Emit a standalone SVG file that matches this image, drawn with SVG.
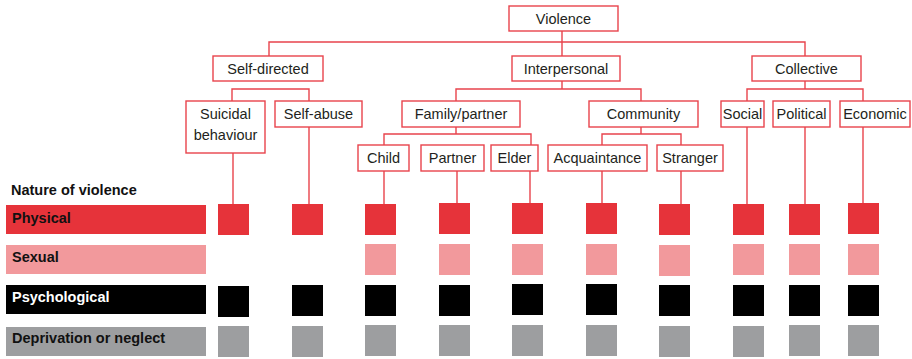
<svg xmlns="http://www.w3.org/2000/svg" width="912" height="359" viewBox="0 0 912 359">
<style>
.box{fill:#fff;stroke:#e8434c;stroke-width:1.4}
.lbl{font-family:"Liberation Sans",Arial,sans-serif;font-size:14.5px;fill:#231f20;text-anchor:middle}
.con{fill:none;stroke:#e8434c;stroke-width:1.4}
.leg{font-family:"Liberation Sans",Arial,sans-serif;font-size:14.5px;font-weight:bold;fill:#111}
.ph{fill:#e6333a}.sx{fill:#f2999c}.ps{fill:#000}.dp{fill:#9d9ea0}
</style>
<rect width="912" height="359" fill="#fff"/>
<g id="connectors">
<path class="con" d="M269 56V42H805V56M562 31V56"/>
<path class="con" d="M232 101V89H309V101M233 153V204M309 127V204"/>
<path class="con" d="M562 81V89M456 101V89H641V101"/>
<path class="con" d="M456 127V134M384 145V134H531V145M384 171V204M457 171V204M530 171V204"/>
<path class="con" d="M641 127V134M602 145V134H681V145M602 171V204M681 171V204"/>
<path class="con" d="M805 81V89M747 101V89H863V101M747 127V204M805 127V204M863 127V204"/>
</g>
<g id="violence"><rect class="box" x="509" y="6" width="109" height="25"/><text class="lbl" x="563.5" y="24">Violence</text></g>
<g id="self-directed"><rect class="box" x="213" y="56" width="110" height="25"/><text class="lbl" x="268" y="74">Self-directed</text></g>
<g id="interpersonal"><rect class="box" x="512" y="56" width="108" height="25"/><text class="lbl" x="566" y="74">Interpersonal</text></g>
<g id="collective"><rect class="box" x="752" y="56" width="109" height="25"/><text class="lbl" x="806.5" y="74">Collective</text></g>
<g id="suicidal"><rect class="box" x="186" y="101" width="79" height="52"/><text class="lbl" x="225.5" y="119">Suicidal</text><text class="lbl" x="225.5" y="140">behaviour</text></g>
<g id="self-abuse"><rect class="box" x="275" y="101" width="87" height="26"/><text class="lbl" x="318.5" y="119">Self-abuse</text></g>
<g id="family"><rect class="box" x="402" y="101" width="118" height="26"/><text class="lbl" x="461" y="119">Family/partner</text></g>
<g id="community"><rect class="box" x="589" y="101" width="109" height="26"/><text class="lbl" x="643.5" y="119">Community</text></g>
<g id="social"><rect class="box" x="721" y="101" width="43" height="26"/><text class="lbl" x="742.5" y="119">Social</text></g>
<g id="political"><rect class="box" x="773" y="101" width="57" height="26"/><text class="lbl" x="801.5" y="119">Political</text></g>
<g id="economic"><rect class="box" x="840" y="101" width="70" height="26"/><text class="lbl" x="875" y="119">Economic</text></g>
<g id="child"><rect class="box" x="358" y="145" width="51" height="26"/><text class="lbl" x="383.5" y="163">Child</text></g>
<g id="partner"><rect class="box" x="421" y="145" width="63" height="26"/><text class="lbl" x="452.5" y="163">Partner</text></g>
<g id="elder"><rect class="box" x="491" y="145" width="47" height="26"/><text class="lbl" x="514.5" y="163">Elder</text></g>
<g id="acquaintance"><rect class="box" x="548" y="145" width="99" height="26"/><text class="lbl" x="597.5" y="163">Acquaintance</text></g>
<g id="stranger"><rect class="box" x="657" y="145" width="66" height="26"/><text class="lbl" x="690" y="163">Stranger</text></g>
<g id="legend">
<text class="leg" x="11" y="195">Nature of violence</text>
<rect class="ph" x="6" y="205" width="200" height="29"/><text class="leg" x="12" y="223">Physical</text>
<rect class="sx" x="6" y="245" width="200" height="29"/><text class="leg" x="12" y="262">Sexual</text>
<rect class="ps" x="6" y="285" width="200" height="29"/><text class="leg" x="12" y="302" style="fill:#fff">Psychological</text>
<rect class="dp" x="6" y="327" width="200" height="29"/><text class="leg" x="12" y="343">Deprivation or neglect</text>
</g>
<g id="matrix">
<rect class="ph" x="218" y="204" width="31" height="31"/><rect class="ps" x="218" y="286" width="31" height="31"/><rect class="dp" x="218" y="326" width="31" height="31"/>
<rect class="ph" x="292" y="204" width="31" height="31"/><rect class="ps" x="292" y="285" width="31" height="31"/><rect class="dp" x="292" y="326" width="31" height="31"/>
<rect class="ph" x="365" y="204" width="31" height="31"/><rect class="sx" x="365" y="244" width="31" height="31"/><rect class="ps" x="365" y="285" width="31" height="31"/><rect class="dp" x="365" y="325" width="31" height="31"/>
<rect class="ph" x="439" y="203" width="31" height="31"/><rect class="sx" x="439" y="244" width="31" height="31"/><rect class="ps" x="439" y="285" width="31" height="31"/><rect class="dp" x="439" y="325" width="31" height="31"/>
<rect class="ph" x="512" y="203" width="31" height="31"/><rect class="sx" x="512" y="244" width="31" height="31"/><rect class="ps" x="512" y="284" width="31" height="31"/><rect class="dp" x="512" y="325" width="31" height="31"/>
<rect class="ph" x="586" y="203" width="31" height="31"/><rect class="sx" x="586" y="244" width="31" height="31"/><rect class="ps" x="586" y="284" width="31" height="31"/><rect class="dp" x="586" y="325" width="31" height="31"/>
<rect class="ph" x="659" y="204" width="31" height="31"/><rect class="sx" x="659" y="245" width="31" height="31"/><rect class="ps" x="659" y="285" width="31" height="31"/><rect class="dp" x="659" y="326" width="31" height="31"/>
<rect class="ph" x="733" y="204" width="31" height="31"/><rect class="sx" x="733" y="244" width="31" height="31"/><rect class="ps" x="733" y="285" width="31" height="31"/><rect class="dp" x="733" y="326" width="31" height="31"/>
<rect class="ph" x="789" y="204" width="31" height="31"/><rect class="sx" x="789" y="244" width="31" height="31"/><rect class="ps" x="789" y="285" width="31" height="31"/><rect class="dp" x="789" y="325" width="31" height="31"/>
<rect class="ph" x="848" y="203" width="31" height="31"/><rect class="sx" x="848" y="244" width="31" height="31"/><rect class="ps" x="848" y="285" width="31" height="31"/><rect class="dp" x="848" y="325" width="31" height="31"/>
</g>
</svg>
